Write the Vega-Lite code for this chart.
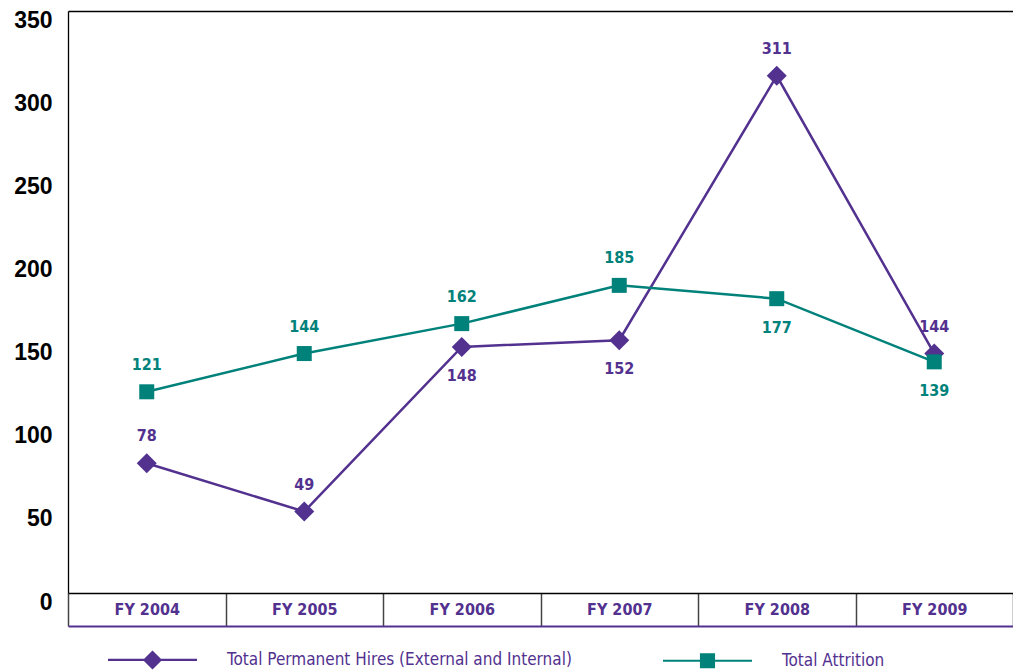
{
  "$schema": "https://vega.github.io/schema/vega-lite/v6.json",
  "width": 945,
  "height": 582,
  "autosize": {"type": "none"},
  "padding": {"left": 68, "top": 11, "right": 0, "bottom": 78},
  "background": "white",
  "config": {"view": {"stroke": null}, "font": "Liberation Sans"},
  "data": {"values": [
    {"year": "FY 2004", "series": "Total Permanent Hires (External and Internal)", "value": 78},
    {"year": "FY 2005", "series": "Total Permanent Hires (External and Internal)", "value": 49},
    {"year": "FY 2006", "series": "Total Permanent Hires (External and Internal)", "value": 148},
    {"year": "FY 2007", "series": "Total Permanent Hires (External and Internal)", "value": 152},
    {"year": "FY 2008", "series": "Total Permanent Hires (External and Internal)", "value": 311},
    {"year": "FY 2009", "series": "Total Permanent Hires (External and Internal)", "value": 144},
    {"year": "FY 2004", "series": "Total Attrition", "value": 121},
    {"year": "FY 2005", "series": "Total Attrition", "value": 144},
    {"year": "FY 2006", "series": "Total Attrition", "value": 162},
    {"year": "FY 2007", "series": "Total Attrition", "value": 185},
    {"year": "FY 2008", "series": "Total Attrition", "value": 177},
    {"year": "FY 2009", "series": "Total Attrition", "value": 139}
  ]},
  "resolve": {"axis": {"x": "independent"}},
  "encoding": {
    "y": {
      "field": "value", "type": "quantitative",
      "scale": {"domain": [0, 350], "nice": false},
      "axis": {
        "title": null, "values": [0, 50, 100, 150, 200, 250, 300, 350],
        "domain": true, "domainColor": "#000000", "domainWidth": 1.3, "ticks": false, "grid": false,
        "labelOffset": 9, "labelPadding": 16, "labelFontSize": 23, "labelFontWeight": "bold",
        "labelColor": "#000000", "labelFont": "Liberation Sans", "labelFlush": false, "labelOverlap": false
      }
    },
    "color": {
      "field": "series", "type": "nominal",
      "scale": {"domain": ["Total Permanent Hires (External and Internal)", "Total Attrition"], "range": ["#52318f", "#00827b"]},
      "legend": {
        "title": null, "orient": "none", "legendX": 40, "legendY": 604,
        "direction": "horizontal", "symbolSize": 7921, "labelOffset": 30, "columnPadding": 91,
        "labelFont": "DejaVu Sans Condensed, Liberation Sans, sans-serif", "labelFontSize": 17, "labelColor": "#52318f",
        "labelLimit": 0, "padding": 0,
        "encode": {
          "symbols": {"update": {
            "shape": {"signal": "datum.value === 'Total Attrition' ? 'M-1,-0.025H1V0.025H-1Z M-0.17,-0.17H0.17V0.17H-0.17Z' : 'M-1,-0.025H1V0.025H-1Z M0,-0.215L0.215,0L0,0.215L-0.215,0Z'"},
            "fill": {"signal": "datum.value === 'Total Attrition' ? '#00827b' : '#52318f'"},
            "stroke": {"value": "transparent"},
            "strokeWidth": {"value": 0},
            "opacity": {"value": 1},
            "fillOpacity": {"value": 1}
          }}
        }
      }
    }
  },
  "layer": [
    {
      "mark": {"type": "line", "strokeWidth": 2.5},
      "encoding": {
        "x": {
          "field": "year", "type": "nominal", "sort": null,
          "scale": {"type": "band", "paddingInner": 0, "paddingOuter": 0},
          "axis": {
            "title": null, "orient": "bottom", "offset": 33,
            "domainColor": "#52318f", "domainWidth": 2,
            "tickBand": "extent", "tickSize": -33, "tickColor": "#444444", "tickWidth": 1.5,
            "labelColor": "#52318f", "labelFont": "DejaVu Sans Condensed, Liberation Sans, sans-serif", "labelFontWeight": "bold",
            "labelFontSize": 16, "labelPadding": 16, "labelBaseline": "middle", "labelAngle": 0, "grid": false
          }
        }
      }
    },
    {
      "transform": [{"filter": "datum.series === 'Total Permanent Hires (External and Internal)'"}],
      "mark": {"type": "point", "shape": "diamond", "size": 400, "filled": true, "opacity": 1},
      "encoding": {
        "x": {
          "field": "year", "type": "nominal", "sort": null,
          "scale": {"type": "band", "paddingInner": 0, "paddingOuter": 0},
          "axis": {"title": null, "orient": "top", "offset": 0, "domain": true, "domainColor": "#000000", "domainWidth": 1.3, "ticks": false, "labels": false, "grid": false}
        }
      }
    },
    {
      "transform": [{"filter": "datum.series === 'Total Attrition'"}],
      "mark": {"type": "point", "shape": "square", "size": 225, "filled": true, "opacity": 1},
      "encoding": {
        "x": {
          "field": "year", "type": "nominal", "sort": null,
          "scale": {"type": "band", "paddingInner": 0, "paddingOuter": 0},
          "axis": {"title": null, "orient": "bottom", "offset": 0, "domain": true, "domainColor": "#000000", "domainWidth": 1.5, "ticks": false, "labels": false, "grid": false}
        }
      }
    },
    {
      "transform": [{"filter": "(datum.series === 'Total Attrition' && datum.year !== 'FY 2008' && datum.year !== 'FY 2009') || (datum.series !== 'Total Attrition' && datum.year !== 'FY 2006' && datum.year !== 'FY 2007')"}],
      "mark": {"type": "text", "dy": -27, "font": "DejaVu Sans Condensed, Liberation Sans, sans-serif", "fontWeight": "bold", "fontSize": 16, "baseline": "middle"},
      "encoding": {
        "x": {"field": "year", "type": "nominal", "sort": null, "scale": {"type": "band", "paddingInner": 0, "paddingOuter": 0}, "axis": null},
        "text": {"field": "value", "type": "quantitative"}
      }
    },
    {
      "transform": [{"filter": "(datum.series === 'Total Attrition' && (datum.year === 'FY 2008' || datum.year === 'FY 2009')) || (datum.series !== 'Total Attrition' && (datum.year === 'FY 2006' || datum.year === 'FY 2007'))"}],
      "mark": {"type": "text", "dy": 29, "font": "DejaVu Sans Condensed, Liberation Sans, sans-serif", "fontWeight": "bold", "fontSize": 16, "baseline": "middle"},
      "encoding": {
        "x": {"field": "year", "type": "nominal", "sort": null, "scale": {"type": "band", "paddingInner": 0, "paddingOuter": 0}, "axis": null},
        "text": {"field": "value", "type": "quantitative"}
      }
    }
  ]
}
